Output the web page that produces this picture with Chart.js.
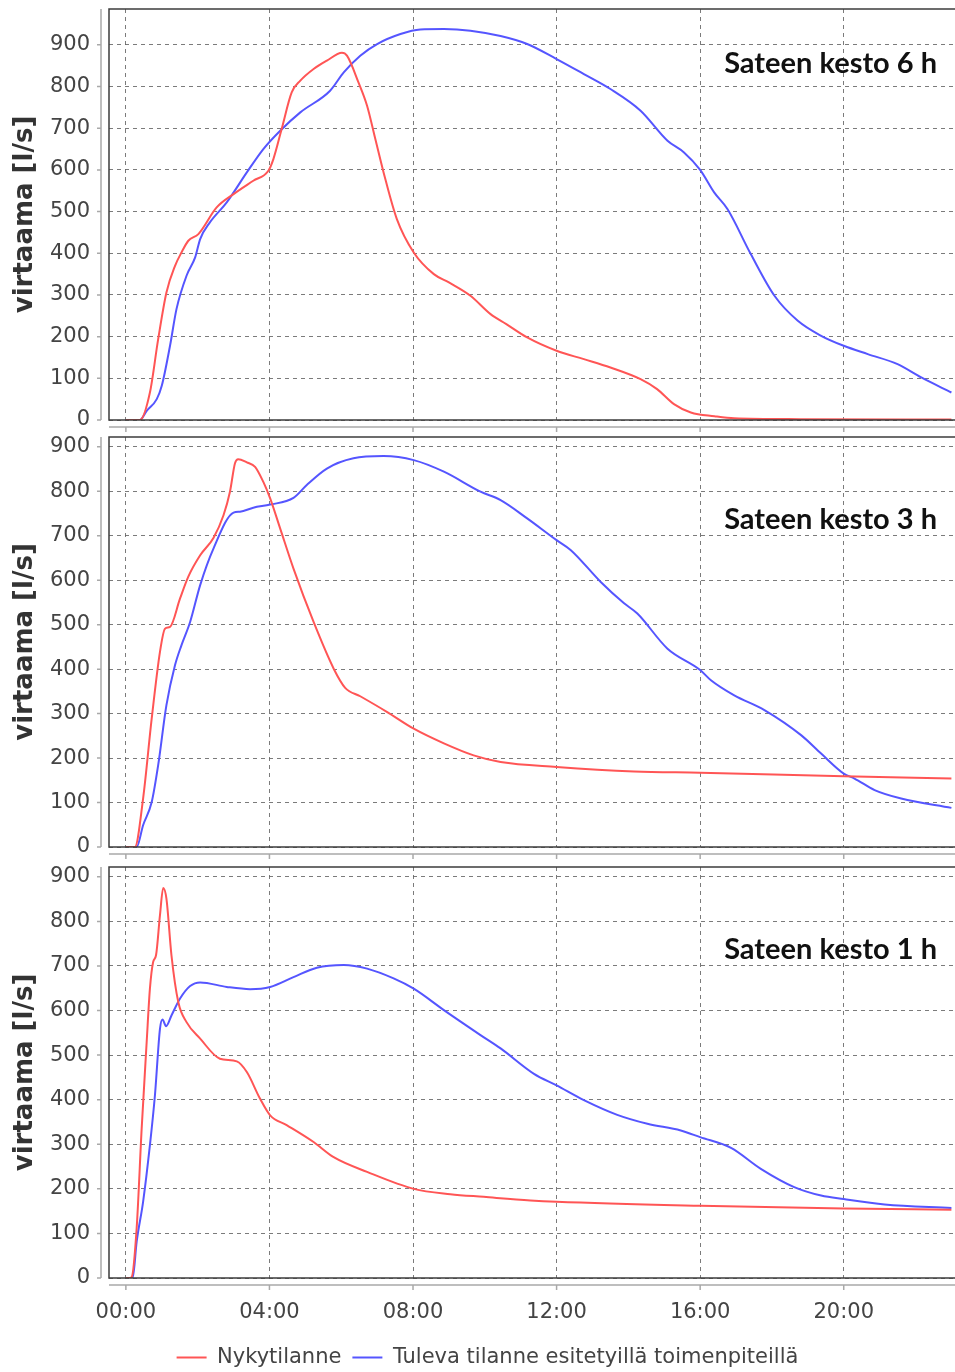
<!DOCTYPE html>
<html>
<head>
<meta charset="utf-8">
<script src="https://cdn.jsdelivr.net/npm/chart.js@4.4.1/dist/chart.umd.min.js"></script>
<style>
    html, body { margin: 0; padding: 0; background: #fff; }
    body { width: 955px; height: 1372px; overflow: hidden; position: relative; }
    canvas { position: absolute; left: 0; }
</style>
</head>
<body>
<canvas id="c6" width="955" height="436" style="top:0px"></canvas>
<canvas id="c3" width="955" height="436" style="top:428px"></canvas>
<canvas id="c1" width="955" height="525" style="top:858px"></canvas>
<script>
// Virtaama [l/s] aikaa vastaan (tunteina), luettu kuvasta
const seriesNames = ['Nykytilanne', 'Tuleva tilanne esitetyillä toimenpiteillä'];
const seriesColors = ['#ff5555', '#5555ff'];
const captions = ['Sateen kesto 6 h', 'Sateen kesto 3 h', 'Sateen kesto 1 h'];
const yAxisMax = [986, 922, 922];
const xTicks = [0, 4, 8, 12, 16, 20];

// Sateen kesto 6 h
const hours6Nyky = [0, 0.39, 0.67, 0.9, 1.13, 1.37, 1.55, 1.74, 2.02, 2.53, 3.0, 3.55, 3.97, 4.11, 4.34, 4.62, 4.86, 5.23, 5.6, 6.02, 6.16, 6.48, 6.72, 6.95, 7.18, 7.55, 8.02, 8.58, 9.0, 9.6, 10.16, 10.6, 11.18, 12, 12.76, 13.5, 14.34, 14.8, 15.27, 15.74, 16.4, 16.95, 18.8, 23];
const flow6Nyky = [0, 0, 66, 194, 306, 370, 402, 430, 446, 510, 542, 574, 598, 626, 698, 786, 814, 842, 862, 881, 874, 810, 754, 674, 594, 482, 402, 350, 330, 298, 254, 230, 198, 166, 146, 126, 98, 74, 38, 18, 9, 4, 2, 1];
const hours6Tuleva = [0, 0.39, 0.58, 0.86, 1.0, 1.23, 1.41, 1.69, 1.93, 2.07, 2.34, 2.81, 3.37, 3.83, 4.3, 4.86, 5.69, 6.07, 6.53, 7.0, 7.65, 8.2, 8.86, 9.6, 10.44, 11.18, 12, 12.76, 13.5, 14.34, 15.09, 15.55, 16, 16.39, 16.76, 17.41, 18.07, 18.72, 19.37, 20, 20.67, 21.5, 22.16, 23];
const flow6Tuleva = [0, 0, 22, 50, 82, 178, 266, 346, 390, 434, 474, 522, 594, 650, 694, 738, 790, 834, 874, 902, 926, 937, 938, 934, 921, 902, 866, 830, 794, 742, 670, 642, 600, 546, 506, 398, 298, 238, 202, 178, 158, 134, 102, 66];

// Sateen kesto 3 h
const hours3Nyky = [0, 0.25, 0.48, 0.72, 0.95, 1.09, 1.23, 1.51, 1.74, 2.07, 2.44, 2.72, 2.9, 3.04, 3.13, 3.37, 3.6, 3.83, 4.02, 4.3, 4.67, 5.23, 5.79, 6.11, 6.53, 7.27, 8.02, 8.86, 9.69, 10.44, 12, 14.16, 16, 20, 23];
const flow3Nyky = [0, 0, 109, 289, 439, 491, 495, 559, 608, 656, 695, 746, 799, 863, 872, 865, 855, 821, 784, 716, 626, 506, 401, 358, 339, 304, 266, 233, 206, 191, 180, 170, 167, 159, 154];
const hours3Tuleva = [0, 0.3, 0.48, 0.72, 0.9, 1.13, 1.37, 1.55, 1.79, 2.07, 2.44, 3.0, 3.18, 3.55, 4.02, 4.67, 5.04, 5.6, 6.34, 7.18, 8.02, 8.86, 9.88, 10.44, 11.18, 12, 12.39, 13.23, 13.88, 14.25, 15.09, 16, 16.3, 16.95, 17.79, 18.82, 19.37, 20, 20.3, 20.86, 21.6, 23];
const flow3Tuleva = [0, 0, 49, 101, 184, 319, 409, 454, 506, 589, 671, 752, 754, 763, 770, 785, 814, 851, 874, 879, 870, 844, 799, 780, 739, 690, 668, 596, 548, 525, 446, 398, 375, 341, 308, 251, 210, 165, 154, 128, 109, 88];

// Sateen kesto 1 h
const hours1Nyky = [0, 0.08, 0.16, 0.3, 0.44, 0.58, 0.67, 0.76, 0.84, 0.95, 1.04, 1.13, 1.27, 1.46, 1.69, 2.07, 2.62, 3.09, 3.37, 3.74, 4.02, 4.48, 5.23, 5.79, 6.72, 8.02, 9.04, 9.97, 11.27, 12, 16, 20, 23];
const flow1Nyky = [0, 0, 2, 111, 335, 530, 649, 709, 724, 814, 875, 851, 724, 619, 574, 537, 492, 486, 462, 402, 365, 343, 305, 271, 238, 200, 188, 182, 174, 171, 162, 156, 153];
const hours1Tuleva = [0, 0.19, 0.3, 0.48, 0.67, 0.81, 0.95, 1.02, 1.12, 1.27, 1.51, 1.79, 2.07, 2.81, 3.46, 4.02, 4.67, 5.32, 6.07, 6.72, 7.46, 8.02, 8.86, 9.88, 10.44, 11.37, 12, 12.76, 13.69, 14.53, 15.46, 16, 16.86, 17.69, 18.62, 19.37, 20, 21.14, 23];
const flow1Tuleva = [0, 0, 81, 171, 298, 410, 559, 580, 565, 589, 627, 655, 663, 653, 648, 653, 675, 696, 702, 694, 672, 649, 601, 545, 515, 458, 432, 399, 366, 346, 331, 316, 292, 245, 204, 185, 177, 165, 157];

Chart.defaults.font.family = '"DejaVu Sans", Verdana, sans-serif';
Chart.defaults.color = '#444';

const toPoints = (hours, flow) => hours.map((h, i) => ({ x: h, y: flow[i] }));
const hhmm = v => String(v).padStart(2, '0') + ':00';

// JFreeChart-tyylinen kehys, siirretyt akselit ja kuvateksti
const framePlugin = {
    id: 'frame',
    afterLayout(chart, args, opts) {
        if (chart.legend && opts.legendShift) {
            chart.legend.left += opts.legendShift;
            chart.legend.right += opts.legendShift;
        }
    },
    afterDatasetsDraw(chart, args, opts) {
        const { ctx, chartArea: a, scales: { x, y } } = chart;
        ctx.save();
        ctx.strokeStyle = '#3c3c3c';
        ctx.lineWidth = 1.5;
        ctx.beginPath();
        ctx.moveTo(a.right, a.top);
        ctx.lineTo(a.left, a.top);
        ctx.lineTo(a.left, a.bottom);
        ctx.lineTo(a.right, a.bottom);
        ctx.stroke();

        const ax = a.left - 8, ay = a.bottom + 7;
        ctx.strokeStyle = '#a9a9a9';
        ctx.lineWidth = 1.5;
        ctx.beginPath();
        ctx.moveTo(ax, a.top);
        ctx.lineTo(ax, a.bottom);
        y.ticks.forEach(t => {
            const p = y.getPixelForValue(t.value);
            ctx.moveTo(ax - 4, p);
            ctx.lineTo(ax, p);
        });
        ctx.moveTo(a.left, ay);
        ctx.lineTo(a.right, ay);
        x.ticks.forEach(t => {
            const p = x.getPixelForValue(t.value);
            ctx.moveTo(p, ay);
            ctx.lineTo(p, ay + 5);
        });
        ctx.stroke();

        ctx.fillStyle = '#111';
        ctx.font = 'bold 29px Lato';
        ctx.textAlign = 'right';
        ctx.textBaseline = 'alphabetic';
        ctx.fillText(opts.caption, a.right - 18, a.top + opts.captionY);
        ctx.restore();
    }
};

const makeDataset = (i, points) => ({
    label: seriesNames[i],
    data: points,
    borderColor: seriesColors[i],
    backgroundColor: seriesColors[i],
    pointBorderColor: seriesColors[i],
    pointBackgroundColor: seriesColors[i],
    pointBorderWidth: 2,
    pointStyle: 'line'
});

const makePanel = (canvasId, idx, nyky, tuleva, layout) => {
    const showX = !!layout.showX;
    return new Chart(document.getElementById(canvasId), {
        type: 'line',
        data: { datasets: [makeDataset(0, nyky), makeDataset(1, tuleva)] },
        options: {
            responsive: false,
            animation: false,
            parsing: false,
            layout: { padding: { top: 9, right: 0, bottom: layout.bottom, left: 0 } },
            elements: {
                point: { radius: 0 },
                line: { borderWidth: 2, cubicInterpolationMode: 'monotone' }
            },
            scales: {
                x: {
                    type: 'linear',
                    min: -0.47,
                    max: 23.1,
                    afterBuildTicks: s => { s.ticks = xTicks.map(v => ({ value: v })); },
                    ticks: { display: showX, padding: 22, font: { size: 21 }, callback: v => hhmm(v) },
                    grid: { color: 'rgba(100,100,100,0.85)', drawTicks: false },
                    border: { display: false, dash: [4, 4] },
                    afterFit: s => { s.height = layout.xHeight; s.paddingLeft = 0; s.paddingRight = 0; }
                },
                y: {
                    min: 0,
                    max: yAxisMax[idx],
                    ticks: { stepSize: 100, includeBounds: false, padding: 19, font: { size: 21 } },
                    grid: { color: 'rgba(100,100,100,0.85)', drawTicks: false },
                    border: { display: false, dash: [4, 4] },
                    title: {
                        display: true,
                        text: 'virtaama [l/s]',
                        color: '#333',
                        font: { size: 26, weight: 'bold' },
                        padding: { top: 9.4, bottom: 0 }
                    },
                    afterFit: s => { s.width = 109; s.paddingTop = 0; s.paddingBottom = 0; }
                }
            },
            plugins: {
                legend: {
                    display: showX,
                    position: 'bottom',
                    labels: {
                        usePointStyle: true,
                        pointStyle: 'line',
                        pointStyleWidth: 30,
                        padding: 11,
                        color: '#444',
                        font: { size: 21 }
                    }
                },
                tooltip: { enabled: false },
                frame: { caption: captions[idx], captionY: layout.captionY, legendShift: layout.legendShift || 0 }
            }
        },
        plugins: [framePlugin]
    });
};

makePanel('c6', 0, toPoints(hours6Nyky, flow6Nyky), toPoints(hours6Tuleva, flow6Tuleva),
    { bottom: 0, xHeight: 16, captionY: 64 });
makePanel('c3', 1, toPoints(hours3Nyky, flow3Nyky), toPoints(hours3Tuleva, flow3Tuleva),
    { bottom: 0, xHeight: 17, captionY: 92 });
makePanel('c1', 2, toPoints(hours1Nyky, flow1Nyky), toPoints(hours1Tuleva, flow1Tuleva),
    { bottom: 5, xHeight: 58, captionY: 92, showX: true, legendShift: 10 });
</script>
</body>
</html>
